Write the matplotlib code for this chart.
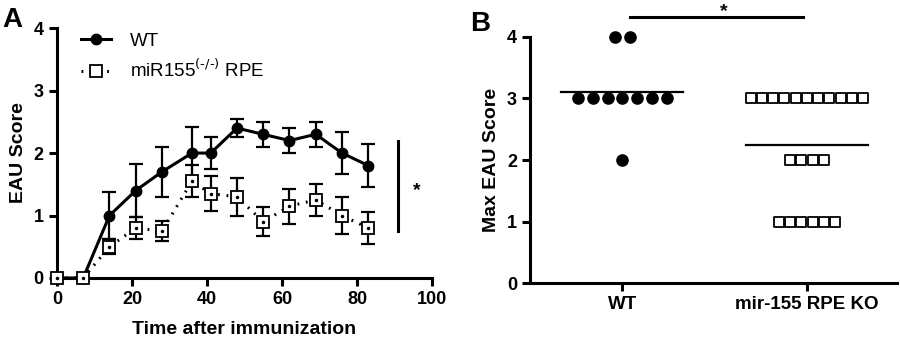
import numpy as np
import matplotlib
matplotlib.use('Agg')
import matplotlib.pyplot as plt

plt.rcParams['font.family'] = ['Liberation Sans', 'DejaVu Sans']

# panel A data
days = [0, 7, 14, 21, 28, 36, 41, 48, 55, 62, 69, 76, 83]
wt_mean = [0, 0, 1.0, 1.4, 1.7, 2.0, 2.0, 2.4, 2.3, 2.2, 2.3, 2.0, 1.8]
wt_err = [0, 0, 0.37, 0.42, 0.4, 0.42, 0.25, 0.15, 0.2, 0.2, 0.2, 0.33, 0.35]
ko_mean = [0, 0, 0.5, 0.8, 0.75, 1.55, 1.35, 1.3, 0.9, 1.15, 1.25, 1.0, 0.8]
ko_err = [0, 0, 0.12, 0.17, 0.16, 0.26, 0.28, 0.3, 0.23, 0.28, 0.25, 0.29, 0.26]

# panel B data
groups = ['WT', 'mir-155 RPE KO']
wt_max = [4, 4, 3, 3, 3, 3, 3, 3, 3, 2]
ko_max = [3] * 11 + [2] * 4 + [1] * 6

fig = plt.figure(figsize=(9, 3.39), dpi=100)

axA = fig.add_axes([0.0633, 0.18, 0.4167, 0.737])
dots = (0, (0.6, 2.2))
axA.errorbar(days, wt_mean, yerr=wt_err, fmt='none', ecolor='black',
             capsize=5, elinewidth=1.6, capthick=1.6, clip_on=False, zorder=2)
axA.errorbar(days, ko_mean, yerr=ko_err, fmt='none', ecolor='black',
             capsize=5, elinewidth=1.6, capthick=1.6, clip_on=False, zorder=2)
l1, = axA.plot(days, wt_mean, color='black', lw=2.2, marker='o', ms=7.5,
               clip_on=False, zorder=3)
l2, = axA.plot(days, ko_mean, color='black', lw=2.2, ls=dots,
               marker='s', ms=9, mfc='white', mec='black', mew=1.3,
               clip_on=False, zorder=3)
axA.plot(days, ko_mean, ls='none', marker='.', ms=3, color='black', zorder=4, clip_on=False)
axA.set_xlim(0, 100)
axA.set_ylim(0, 4)
axA.set_xticks([0, 20, 40, 60, 80, 100])
axA.set_yticks([0, 1, 2, 3, 4])
axA.plot([91, 91], [0.75, 2.2], color='black', lw=2.2)
axA.text(96, 1.4, '*', fontsize=14, fontweight='bold', ha='center', va='center')
axA.set_xlabel('Time after immunization', fontsize=14, fontweight='bold', labelpad=9)
axA.set_ylabel('EAU Score', fontsize=14, fontweight='bold', labelpad=5)
axA.legend([l1, l2], ['WT', r'miR155$^{(\text{-}/\text{-})}$ RPE'], loc='upper left',
           bbox_to_anchor=(0.02, 1.05), frameon=False, fontsize=13.5,
           handlelength=1.6, labelspacing=0.5, handletextpad=1.0)

axB = fig.add_axes([0.589, 0.165, 0.408, 0.726])


def spread(values, center, step):
    xs = []
    ys = []
    for v in sorted(set(values), reverse=True):
        n = values.count(v)
        offs = (np.arange(n) - (n - 1) / 2) * step
        xs.extend(center + offs)
        ys.extend([v] * n)
    return xs, ys


x1, y1 = spread(wt_max, 1, 0.08)
x2, y2 = spread(ko_max, 2, 0.061)
axB.scatter(x1, y1, s=65, color='black', marker='o', zorder=3, clip_on=False)
axB.scatter(x2, y2, s=62, facecolor='white', edgecolor='black', marker='s', lw=1.3,
            zorder=3, clip_on=False)
axB.plot([1 - 0.33, 1 + 0.33], [np.mean(wt_max)] * 2, color='black', lw=1.6)
axB.plot([2 - 0.33, 2 + 0.33], [np.mean(ko_max)] * 2, color='black', lw=1.6)
axB.set_xlim(0.5, 2.49)
axB.set_ylim(0, 4)
axB.set_xticks([1, 2])
axB.set_xticklabels(groups)
axB.set_yticks([0, 1, 2, 3, 4])
axB.set_ylabel('Max EAU Score', fontsize=14, fontweight='bold', labelpad=5)
axB.plot([1.04, 1.98], [4.33, 4.33], color='black', lw=2.2, clip_on=False)
axB.text(1.55, 4.41, '*', fontsize=14, fontweight='bold', ha='center', va='center')

for ax in (axA, axB):
    for s in ('top', 'right'):
        ax.spines[s].set_visible(False)
    for s in ('left', 'bottom'):
        ax.spines[s].set_linewidth(2.2)
    ax.tick_params(width=2.2, length=6, labelsize=13)
    for lab in ax.get_xticklabels() + ax.get_yticklabels():
        lab.set_fontweight('bold')
axB.tick_params(axis='x', labelsize=13.5)

fig.text(0.003, 0.94, 'A', fontsize=20, fontweight='bold', va='center')
fig.text(0.522, 0.93, 'B', fontsize=20, fontweight='bold', va='center')

fig.savefig('out.png', dpi=100)
